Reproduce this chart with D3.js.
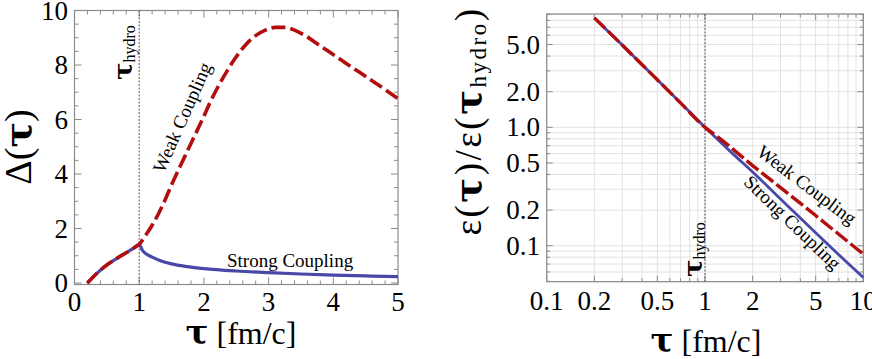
<!DOCTYPE html>
<html><head><meta charset="utf-8">
<script src="https://cdn.jsdelivr.net/npm/d3@7"></script>
<style>
body{margin:0;background:#fff;}
svg{display:block;font-family:"Liberation Serif","Times New Roman",serif;}
.tau{font-family:"DejaVu Serif","Liberation Serif",serif;font-weight:bold;}
</style></head>
<body><svg id="c" width="872" height="359"></svg>
<script>
// ---------- data: left panel (anisotropy) ----------
const tauEarly = [0.2,0.3,0.4,0.5,0.6,0.7,0.8,0.9,1.0];
const deltaEarly = [0,0.25,0.47,0.66,0.82,0.97,1.11,1.26,1.42];
const tauWeak = [1.0,1.1,1.2,1.3,1.4,1.5,1.6,1.7,1.8,1.9,2.0,2.1,2.2,2.35,2.5,2.65,2.8,2.95,3.1,3.25,3.4,3.55,3.8,4.05,4.3,4.55,4.8,5.0];
const deltaWeak = [1.42,1.75,2.12,2.55,3.05,3.6,4.12,4.62,5.12,5.62,6.12,6.65,7.12,7.75,8.3,8.75,9.08,9.28,9.38,9.38,9.28,9.1,8.7,8.3,7.9,7.5,7.1,6.77];
const tauStrong = [1.0,1.05,1.1,1.2,1.35,1.5,1.75,2.0,2.5,3.0,3.5,4.0,4.5,5.0];
const deltaStrong = [1.42,1.2,1.08,0.95,0.8,0.7,0.6,0.53,0.44,0.38,0.33,0.29,0.26,0.235];
const xTicksLeft = [0,1,2,3,4,5];
const yTicksLeft = [0,2,4,6,8,10];
// ---------- data: right panel (energy density) ----------
const tauE = [0.2,0.3,0.5,0.7,1.0];
const epsE = [8.4,4.95,2.52,1.61,1.0];
const tauES = [1.0,1.5,2,3,5,7,10];
const epsES = [1.0,0.597,0.42,0.248,0.129,0.084,0.054];
const tauEW = [1.0,1.25,1.5,2,3,5,7,10];
const epsEW = [1.0,0.8,0.655,0.475,0.31,0.18,0.125,0.085];
const xTicksRight = [0.1,0.2,0.5,1,2,5,10];
const xTickLabelsRight = ["0.1","0.2","0.5","1","2","5","10"];
const yTicksRight = [0.1,0.2,0.5,1,2,5];
const yTickLabelsRight = ["0.1","0.2","0.5","1.0","2.0","5.0"];
const tauHydro = 1;

const RED = "#b30d0d", BLUE = "#4848a8", FRAME = "#8a8a8a";
const svg = d3.select("#c");

// ================= LEFT PANEL =================
const xL = d3.scaleLinear().domain([0,5]).range([74.5,398]);
const yL = d3.scaleLinear().domain([0,10]).range([283,10.5]);
const gL = svg.append("g");
const lineL = d3.line().x(d=>xL(d[0])).y(d=>yL(d[1])).curve(d3.curveMonotoneX);

const minorXL = d3.range(0,5.001,0.2), minorYL = d3.range(0,10.001,0.5);
minorXL.forEach(v=>{
  const major = Math.abs(v-Math.round(v))<1e-6;
  const L = major?7:4;
  gL.append("line").attr("x1",xL(v)).attr("x2",xL(v)).attr("y1",284.5).attr("y2",284.5-L).attr("stroke",FRAME);
  gL.append("line").attr("x1",xL(v)).attr("x2",xL(v)).attr("y1",10.5).attr("y2",10.5+L).attr("stroke",FRAME);
});
minorYL.forEach(v=>{
  const major = Math.abs(v/2-Math.round(v/2))<1e-6;
  const L = major?7:4;
  gL.append("line").attr("x1",74.5).attr("x2",74.5+L).attr("y1",yL(v)).attr("y2",yL(v)).attr("stroke",FRAME);
  gL.append("line").attr("x1",398).attr("x2",398-L).attr("y1",yL(v)).attr("y2",yL(v)).attr("stroke",FRAME);
});
gL.append("rect").attr("x",74.5).attr("y",10.5).attr("width",398-74.5).attr("height",284.5-10.5)
  .attr("fill","none").attr("stroke",FRAME).attr("stroke-width",1.2);

xTicksLeft.forEach(v=>gL.append("text").attr("x",xL(v)).attr("y",311).attr("text-anchor","middle")
  .attr("font-size",27).text(v));
yTicksLeft.forEach(v=>gL.append("text").attr("x",68).attr("y",yL(v)+9).attr("text-anchor","end")
  .attr("font-size",27).text(v));

gL.append("line").attr("x1",xL(tauHydro)).attr("x2",xL(tauHydro)).attr("y1",10.5).attr("y2",284.5)
  .attr("stroke","#555").attr("stroke-width",1).attr("stroke-dasharray","2,1.5");

const earlyL = tauEarly.map((t,i)=>[t,deltaEarly[i]]);
gL.append("path").attr("d",lineL(earlyL.concat(tauStrong.slice(1).map((t,i)=>[t,deltaStrong[i+1]]))))
  .attr("fill","none").attr("stroke",BLUE).attr("stroke-width",3.2);
gL.append("path").attr("d",lineL(earlyL.concat(tauWeak.slice(1).map((t,i)=>[t,deltaWeak[i+1]]))))
  .attr("fill","none").attr("stroke",RED).attr("stroke-width",3.6).attr("stroke-dasharray","14,5");

gL.append("text").attr("x",227).attr("y",266.5).attr("font-size",19).text("Strong Coupling");
gL.append("text").attr("transform","translate(188,120) rotate(-66)").attr("text-anchor","middle")
  .attr("font-size",19).text("Weak Coupling");
const th = gL.append("text").attr("transform","translate(132,80) rotate(-90)");
th.append("tspan").attr("class","tau").attr("font-size",26).text("τ");
th.append("tspan").attr("font-size",16).attr("dy",3).text("hydro");
gL.append("text").attr("transform","translate(31,147) rotate(-90)").attr("text-anchor","middle")
  .attr("font-size",38).html('Δ(<tspan class="tau">τ</tspan>)');
gL.append("text").attr("x",241).attr("y",344).attr("text-anchor","middle").attr("font-size",32)
  .html('<tspan class="tau" font-size="34">τ</tspan> [fm/c]');

// ================= RIGHT PANEL =================
const xR = d3.scaleLog().domain([0.1,10]).range([546.7,863.3]);
const yR = d3.scaleLog().domain([0.0497,9.06]).range([281.7,14]);
const gR = svg.append("g");
const lineR = d3.line().x(d=>xR(d[0])).y(d=>yR(d[1])).curve(d3.curveMonotoneX);

const gridX = d3.range(1,10).map(d=>d/10).concat(d3.range(1,11));
const gridY = [0.05,0.06,0.07,0.08,0.09].concat(d3.range(1,10).map(d=>d/10), d3.range(1,10));
gridX.forEach(v=>gR.append("line").attr("x1",xR(v)).attr("x2",xR(v)).attr("y1",14).attr("y2",281.7)
  .attr("stroke","#e2e2e2").attr("stroke-width",1));
gridY.forEach(v=>gR.append("line").attr("x1",546.7).attr("x2",863.3).attr("y1",yR(v)).attr("y2",yR(v))
  .attr("stroke","#e2e2e2").attr("stroke-width",1));
gridX.forEach(v=>{
  const major = xTicksRight.includes(v);
  const L = major?6:3.5;
  gR.append("line").attr("x1",xR(v)).attr("x2",xR(v)).attr("y1",281.7).attr("y2",281.7-L).attr("stroke",FRAME);
  gR.append("line").attr("x1",xR(v)).attr("x2",xR(v)).attr("y1",14).attr("y2",14+L).attr("stroke",FRAME);
});
gridY.forEach(v=>{
  const major = yTicksRight.includes(v);
  const L = major?6:3.5;
  gR.append("line").attr("x1",546.7).attr("x2",546.7+L).attr("y1",yR(v)).attr("y2",yR(v)).attr("stroke",FRAME);
  gR.append("line").attr("x1",863.3).attr("x2",863.3-L).attr("y1",yR(v)).attr("y2",yR(v)).attr("stroke",FRAME);
});
gR.append("rect").attr("x",546.7).attr("y",14).attr("width",863.3-546.7).attr("height",281.7-14)
  .attr("fill","none").attr("stroke",FRAME).attr("stroke-width",1.2);

xTicksRight.forEach((v,i)=>gR.append("text").attr("x",xR(v)).attr("y",310).attr("text-anchor","middle")
  .attr("font-size",27).text(xTickLabelsRight[i]));
yTicksRight.forEach((v,i)=>gR.append("text").attr("x",540).attr("y",yR(v)+9).attr("text-anchor","end")
  .attr("font-size",27).text(yTickLabelsRight[i]));

gR.append("line").attr("x1",xR(tauHydro)).attr("x2",xR(tauHydro)).attr("y1",14).attr("y2",281.7)
  .attr("stroke","#555").attr("stroke-width",1).attr("stroke-dasharray","2,1.5");

const earlyR = tauE.map((t,i)=>[t,epsE[i]]);
gR.append("path").attr("d",lineR(earlyR.concat(tauES.slice(1).map((t,i)=>[t,epsES[i+1]]))))
  .attr("fill","none").attr("stroke",BLUE).attr("stroke-width",2.8);
gR.append("path").attr("d",lineR(earlyR.concat(tauEW.slice(1).map((t,i)=>[t,epsEW[i+1]]))))
  .attr("fill","none").attr("stroke",RED).attr("stroke-width",3.4).attr("stroke-dasharray","15,4");

gR.append("text").attr("transform","translate(803,190) rotate(37)").attr("text-anchor","middle")
  .attr("font-size",19).text("Weak Coupling");
gR.append("text").attr("transform","translate(788,227) rotate(44)").attr("text-anchor","middle")
  .attr("font-size",19).text("Strong Coupling");
const th2 = gR.append("text").attr("transform","translate(702,277) rotate(-90)");
th2.append("tspan").attr("class","tau").attr("font-size",26).text("τ");
th2.append("tspan").attr("font-size",16).attr("dy",3).text("hydro");
gR.append("text").attr("transform","translate(481,121) rotate(-90)").attr("text-anchor","middle")
  .attr("font-size",37).attr("letter-spacing",2.5)
  .html('ε(<tspan class="tau">τ</tspan>)/ε(<tspan class="tau">τ</tspan><tspan font-size="23" dy="5">hydro</tspan><tspan dy="-5">)</tspan>');
gR.append("text").attr("x",706).attr("y",352).attr("text-anchor","middle").attr("font-size",32)
  .html('<tspan class="tau" font-size="34">τ</tspan> [fm/c]');
</script></body></html>
